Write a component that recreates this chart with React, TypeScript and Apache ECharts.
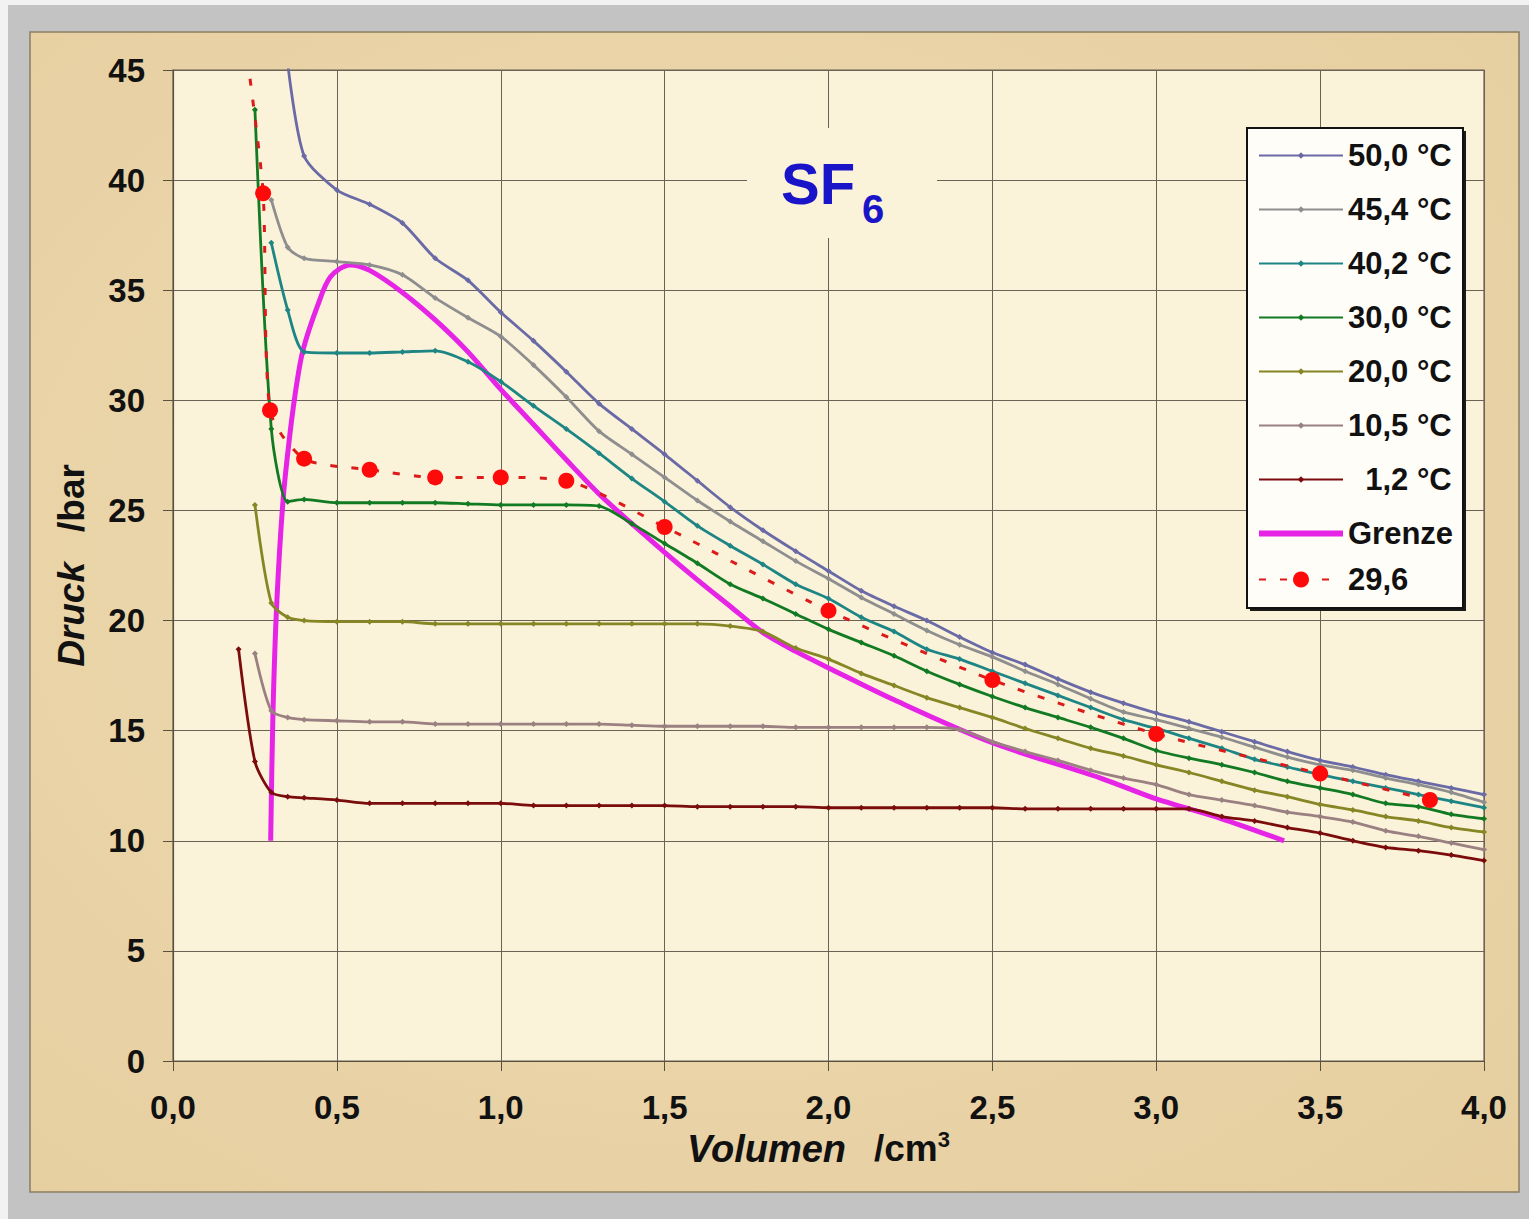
import React, { useEffect, useRef } from "react";
import * as echarts from "echarts";

const FONT = '"Liberation Sans", Arial, Helvetica, sans-serif';

// ---- axes ----
const X_MIN = 0;
const X_MAX = 4;
const X_STEP = 0.5;
const Y_MIN = 0;
const Y_MAX = 45;
const Y_STEP = 5;

// ---- series names (legend order) ----
const NAMES = [
  "50,0 °C",
  "45,4 °C",
  "40,2 °C",
  "30,0 °C",
  "20,0 °C",
  "10,5 °C",
  "\u20071,2 °C",
  "Grenze",
  "29,6",
];

const COLORS = [
  "#6a6aa6",
  "#8e8e8e",
  "#1e8585",
  "#117a22",
  "#868625",
  "#9a8080",
  "#7a0c0c",
  "#e624e6",
  "#ff0a0a",
];

// ---- volumes (cm³) ----
const VOL_TAIL = [
  0.5, 0.6, 0.7, 0.8, 0.9, 1.0, 1.1, 1.2, 1.3, 1.4, 1.5, 1.6, 1.7, 1.8, 1.9, 2.0, 2.1, 2.2,
  2.3, 2.4, 2.5, 2.6, 2.7, 2.8, 2.9, 3.0, 3.1, 3.2, 3.3, 3.4, 3.5, 3.6, 3.7, 3.8, 3.9, 4.0,
];
const VOL_50 = [0.35, 0.4, ...VOL_TAIL];
const VOL_45 = [0.3, 0.35, 0.4, ...VOL_TAIL];
const VOL_40 = [0.3, 0.35, 0.4, ...VOL_TAIL];
const VOL_30 = [0.25, 0.3, 0.35, 0.4, ...VOL_TAIL];
const VOL_20 = [0.25, 0.3, 0.35, 0.4, ...VOL_TAIL];
const VOL_10 = [0.25, 0.3, 0.35, 0.4, ...VOL_TAIL];
const VOL_1 = [0.2, 0.25, 0.3, 0.35, 0.4, ...VOL_TAIL];

// ---- pressures (bar) ----
const P_50 = [
  45.3, 41.1, 39.55, 38.9, 38.05, 36.45, 35.45, 34.0, 32.7, 31.3, 29.85, 28.7, 27.55, 26.35,
  25.15, 24.1, 23.15, 22.25, 21.35, 20.65, 20.0, 19.25, 18.55, 18.0, 17.35, 16.75, 16.25, 15.8,
  15.4, 14.95, 14.5, 14.05, 13.65, 13.35, 13.0, 12.7, 12.4, 12.1,
];
const P_45 = [
  39.1, 36.95, 36.45, 36.3, 36.15, 35.7, 34.65, 33.75, 32.9, 31.6, 30.15, 28.6, 27.55, 26.5,
  25.45, 24.5, 23.6, 22.7, 21.9, 21.05, 20.3, 19.55, 18.9, 18.35, 17.7, 17.1, 16.45, 15.85, 15.5,
  15.1, 14.7, 14.25, 13.8, 13.45, 13.2, 12.85, 12.55, 12.2, 11.75,
];
const P_40 = [
  37.15, 34.1, 32.2, 32.15, 32.15, 32.2, 32.25, 31.75, 30.85, 29.75, 28.7, 27.6, 26.45, 25.4,
  24.3, 23.4, 22.55, 21.65, 21.0, 20.15, 19.5, 18.7, 18.25, 17.7, 17.15, 16.6, 16.05, 15.5, 15.1,
  14.65, 14.2, 13.7, 13.35, 13.0, 12.7, 12.4, 12.1, 11.8, 11.5,
];
const P_30 = [
  43.2, 28.7, 25.4, 25.5, 25.35, 25.35, 25.35, 25.35, 25.3, 25.25, 25.25, 25.25, 25.2, 24.4, 23.5,
  22.6, 21.65, 21.0, 20.3, 19.6, 19.0, 18.4, 17.7, 17.1, 16.55, 16.05, 15.6, 15.15, 14.65, 14.1,
  13.75, 13.45, 13.1, 12.7, 12.4, 12.1, 11.7, 11.55, 11.2, 11.0,
];
const P_20 = [
  25.25, 20.8, 20.15, 20.0, 19.95, 19.95, 19.95, 19.85, 19.85, 19.85, 19.85, 19.85, 19.85, 19.85,
  19.85, 19.85, 19.75, 19.5, 18.75, 18.25, 17.6, 17.05, 16.5, 16.05, 15.6, 15.1, 14.65, 14.2,
  13.85, 13.45, 13.1, 12.7, 12.3, 12.0, 11.65, 11.4, 11.1, 10.9, 10.6, 10.4,
];
const P_10 = [
  18.5, 15.9, 15.6, 15.5, 15.45, 15.4, 15.4, 15.3, 15.3, 15.3, 15.3, 15.3, 15.3, 15.25, 15.2,
  15.2, 15.2, 15.2, 15.15, 15.15, 15.15, 15.15, 15.15, 15.05, 14.5, 14.05, 13.65, 13.2, 12.85,
  12.55, 12.1, 11.85, 11.6, 11.3, 11.1, 10.85, 10.45, 10.2, 9.9, 9.6,
];
const P_1 = [
  18.7, 13.6, 12.2, 12.0, 11.95, 11.85, 11.7, 11.7, 11.7, 11.7, 11.7, 11.6, 11.6, 11.6, 11.6,
  11.6, 11.55, 11.55, 11.55, 11.55, 11.5, 11.5, 11.5, 11.5, 11.5, 11.5, 11.45, 11.45, 11.45,
  11.45, 11.45, 11.45, 11.1, 10.9, 10.6, 10.35, 10.0, 9.7, 9.55, 9.35, 9.1,
];

// ---- phase boundary ("Grenze") ----
const GRENZE_V = [
  0.298, 0.305, 0.317, 0.336, 0.357, 0.378, 0.397, 0.44, 0.48, 0.54, 0.6, 0.7, 0.8, 0.9, 1.0, 1.1,
  1.2, 1.3, 1.4, 1.5, 1.6, 1.7, 1.8, 1.9, 2.0, 2.2, 2.5, 2.83, 3.0, 3.2, 3.39,
];
const GRENZE_P = [
  10.0, 15.8, 20.9, 25.5, 28.5, 30.8, 32.3, 34.25, 35.6, 36.15, 35.9, 34.9, 33.65, 32.2, 30.5,
  28.9, 27.3, 25.75, 24.4, 23.1, 21.85, 20.65, 19.45, 18.6, 17.85, 16.4, 14.45, 12.85, 11.9, 11.0,
  10.0,
];

// ---- 29,6 °C measurement ----
const RED_V = [0.235, 0.275, 0.296, 0.4, 0.6, 0.8, 1.0, 1.2, 1.5, 2.0, 2.5, 3.0, 3.5, 3.835];
const RED_P = [44.6, 39.4, 29.55, 27.35, 26.85, 26.5, 26.5, 26.35, 24.25, 20.45, 17.3, 14.85, 13.05, 11.85];

const pairs = (v: number[], p: number[]) => p.map((y, i) => [v[i], y]);

const TEXT_COLOR = "#111111";

function lineSeries(idx: number, data: number[][]) {
  const color = COLORS[idx];
  return {
    type: "line",
    name: NAMES[idx],
    data,
    smooth: 0.25,
    symbol: "diamond",
    symbolSize: 6,
    showSymbol: true,
    lineStyle: { color, width: 2.8 },
    itemStyle: { color },
    emphasis: { disabled: true },
  };
}

export default function App() {
  const ref = useRef<HTMLDivElement>(null);

  useEffect(() => {
    if (!ref.current) return;
    const chart = echarts.init(ref.current, undefined, { renderer: "svg" });

    const redData = RED_V.map((v, i) =>
      i === 0 ? { value: [v, RED_P[i]], symbol: "none" } : { value: [v, RED_P[i]] }
    );

    const legendText = {
      fontFamily: FONT,
      fontSize: 31,
      fontWeight: "bold",
      color: TEXT_COLOR,
      lineHeight: 30,
    };

    const option: any = {
      animation: false,
      backgroundColor: "#f2f2f2",
      textStyle: { fontFamily: FONT },
      grid: {
        left: 173,
        top: 70,
        right: 45,
        bottom: 158,
        show: true,
        backgroundColor: "#fbf2da",
        borderColor: "#6b6150",
        borderWidth: 1.2,
      },
      xAxis: {
        type: "value",
        min: X_MIN,
        max: X_MAX,
        interval: X_STEP,
        axisLine: { show: true, onZero: false, lineStyle: { color: "#5a5040", width: 1.2 } },
        axisTick: { show: true, inside: false, length: 10, lineStyle: { color: "#5a5040" } },
        axisLabel: {
          margin: 30,
          fontFamily: FONT,
          fontSize: 33,
          fontWeight: "bold",
          color: TEXT_COLOR,
          showMinLabel: true,
          showMaxLabel: true,
          formatter: (v: number) => v.toFixed(1).replace(".", ","),
        },
        splitLine: { show: true, lineStyle: { color: "#6a6255", width: 1 } },
        name: "{i|Volumen}{n|/cm}{s|3}",
        nameLocation: "middle",
        nameGap: 59,
        nameTextStyle: {
          fontFamily: FONT,
          color: TEXT_COLOR,
          padding: [0, 20, 0, 0],
          rich: {
            i: { fontSize: 38, fontWeight: "bold", fontStyle: "italic", lineHeight: 40, color: TEXT_COLOR },
            n: { fontSize: 37, fontWeight: "bold", lineHeight: 40, padding: [0, 0, 0, 28], color: TEXT_COLOR },
            s: { fontSize: 22, fontWeight: "bold", lineHeight: 22, verticalAlign: "top", color: TEXT_COLOR },
          },
        },
      },
      yAxis: {
        type: "value",
        min: Y_MIN,
        max: Y_MAX,
        interval: Y_STEP,
        axisLine: { show: true, lineStyle: { color: "#5a5040", width: 1.2 } },
        axisTick: { show: true, inside: false, length: 10, lineStyle: { color: "#5a5040" } },
        axisLabel: {
          margin: 28,
          fontFamily: FONT,
          fontSize: 33,
          fontWeight: "bold",
          color: TEXT_COLOR,
        },
        splitLine: { show: true, lineStyle: { color: "#6a6255", width: 1 } },
        name: "{i|Druck}{n|/bar}",
        nameLocation: "middle",
        nameGap: 82,
        nameTextStyle: {
          fontFamily: FONT,
          color: TEXT_COLOR,
          rich: {
            i: { fontSize: 37, fontWeight: "bold", fontStyle: "italic", lineHeight: 40, color: TEXT_COLOR },
            n: { fontSize: 37, fontWeight: "bold", lineHeight: 40, padding: [0, 0, 0, 30], color: TEXT_COLOR },
          },
        },
      },
      legend: [
        {
          orient: "vertical",
          left: 1258,
          top: 140,
          padding: 0,
          itemWidth: 84,
          itemHeight: 8,
          itemGap: 23,
          selectedMode: false,
          data: [
            ...NAMES.slice(0, 7),
            { name: NAMES[7], icon: "path://M0,0H100V7H0Z" },
          ],
          textStyle: legendText,
        },
        {
          orient: "vertical",
          left: 1258,
          top: 564,
          padding: 0,
          itemWidth: 84,
          itemHeight: 20,
          itemGap: 23,
          selectedMode: false,
          data: [NAMES[8]],
          textStyle: legendText,
        },
      ],
      graphic: [
        {
          type: "rect",
          z: -20,
          silent: true,
          shape: { x: 8, y: 5, width: 1521, height: 1214 },
          style: { fill: "#c3c3c3" },
        },
        {
          type: "rect",
          z: -19,
          silent: true,
          shape: { x: 30, y: 32, width: 1489, height: 1160 },
          style: {
            fill: {
              type: "radial",
              x: 0.45,
              y: 0.45,
              r: 0.85,
              colorStops: [
                { offset: 0, color: "#efdcb4" },
                { offset: 1, color: "#e4cc9c" },
              ],
            },
            stroke: "#8c7d62",
            lineWidth: 1.5,
          },
        },
        // title box covering grid lines
        {
          type: "rect",
          z: 3,
          silent: true,
          shape: { x: 747, y: 128, width: 190, height: 110 },
          style: { fill: "#fbf2da" },
        },
        {
          type: "text",
          z: 4,
          x: 781,
          y: 183,
          style: {
            text: "SF",
            fontFamily: FONT,
            fontSize: 58,
            fontWeight: "bold",
            fill: "#1a14c8",
            align: "left",
            verticalAlign: "middle",
          },
        },
        {
          type: "text",
          z: 4,
          x: 862,
          y: 209,
          style: {
            text: "6",
            fontFamily: FONT,
            fontSize: 40,
            fontWeight: "bold",
            fill: "#1a14c8",
            align: "left",
            verticalAlign: "middle",
          },
        },
        // legend frame with shadow
        {
          type: "rect",
          z: 3,
          silent: true,
          shape: { x: 1250, y: 131, width: 216, height: 480 },
          style: { fill: "#1a1a1a" },
        },
        {
          type: "rect",
          z: 3,
          silent: true,
          shape: { x: 1247, y: 128, width: 216, height: 480 },
          style: { fill: "#fffdf8", stroke: "#111111", lineWidth: 2 },
        },
      ],
      series: [
        {
          type: "line",
          name: NAMES[7],
          data: pairs(GRENZE_V, GRENZE_P),
          smooth: 0.3,
          symbol: "none",
          lineStyle: { color: COLORS[7], width: 5 },
          itemStyle: { color: COLORS[7] },
          emphasis: { disabled: true },
        },
        lineSeries(0, pairs(VOL_50, P_50)),
        lineSeries(1, pairs(VOL_45, P_45)),
        lineSeries(2, pairs(VOL_40, P_40)),
        lineSeries(3, pairs(VOL_30, P_30)),
        lineSeries(4, pairs(VOL_20, P_20)),
        lineSeries(5, pairs(VOL_10, P_10)),
        lineSeries(6, pairs(VOL_1, P_1)),
        {
          type: "line",
          name: NAMES[8],
          data: redData,
          smooth: 0.25,
          symbol: "circle",
          symbolSize: 16,
          lineStyle: { color: "#dd1a1a", width: 3, type: [7, 14] },
          itemStyle: { color: COLORS[8] },
          emphasis: { disabled: true },
          z: 5,
        },
      ],
    };

    chart.setOption(option);
    return () => {
      chart.dispose();
    };
  }, []);

  return (
    <div
      ref={ref}
      style={{ position: "fixed", left: 0, top: 0, width: 1529, height: 1219 }}
    />
  );
}
